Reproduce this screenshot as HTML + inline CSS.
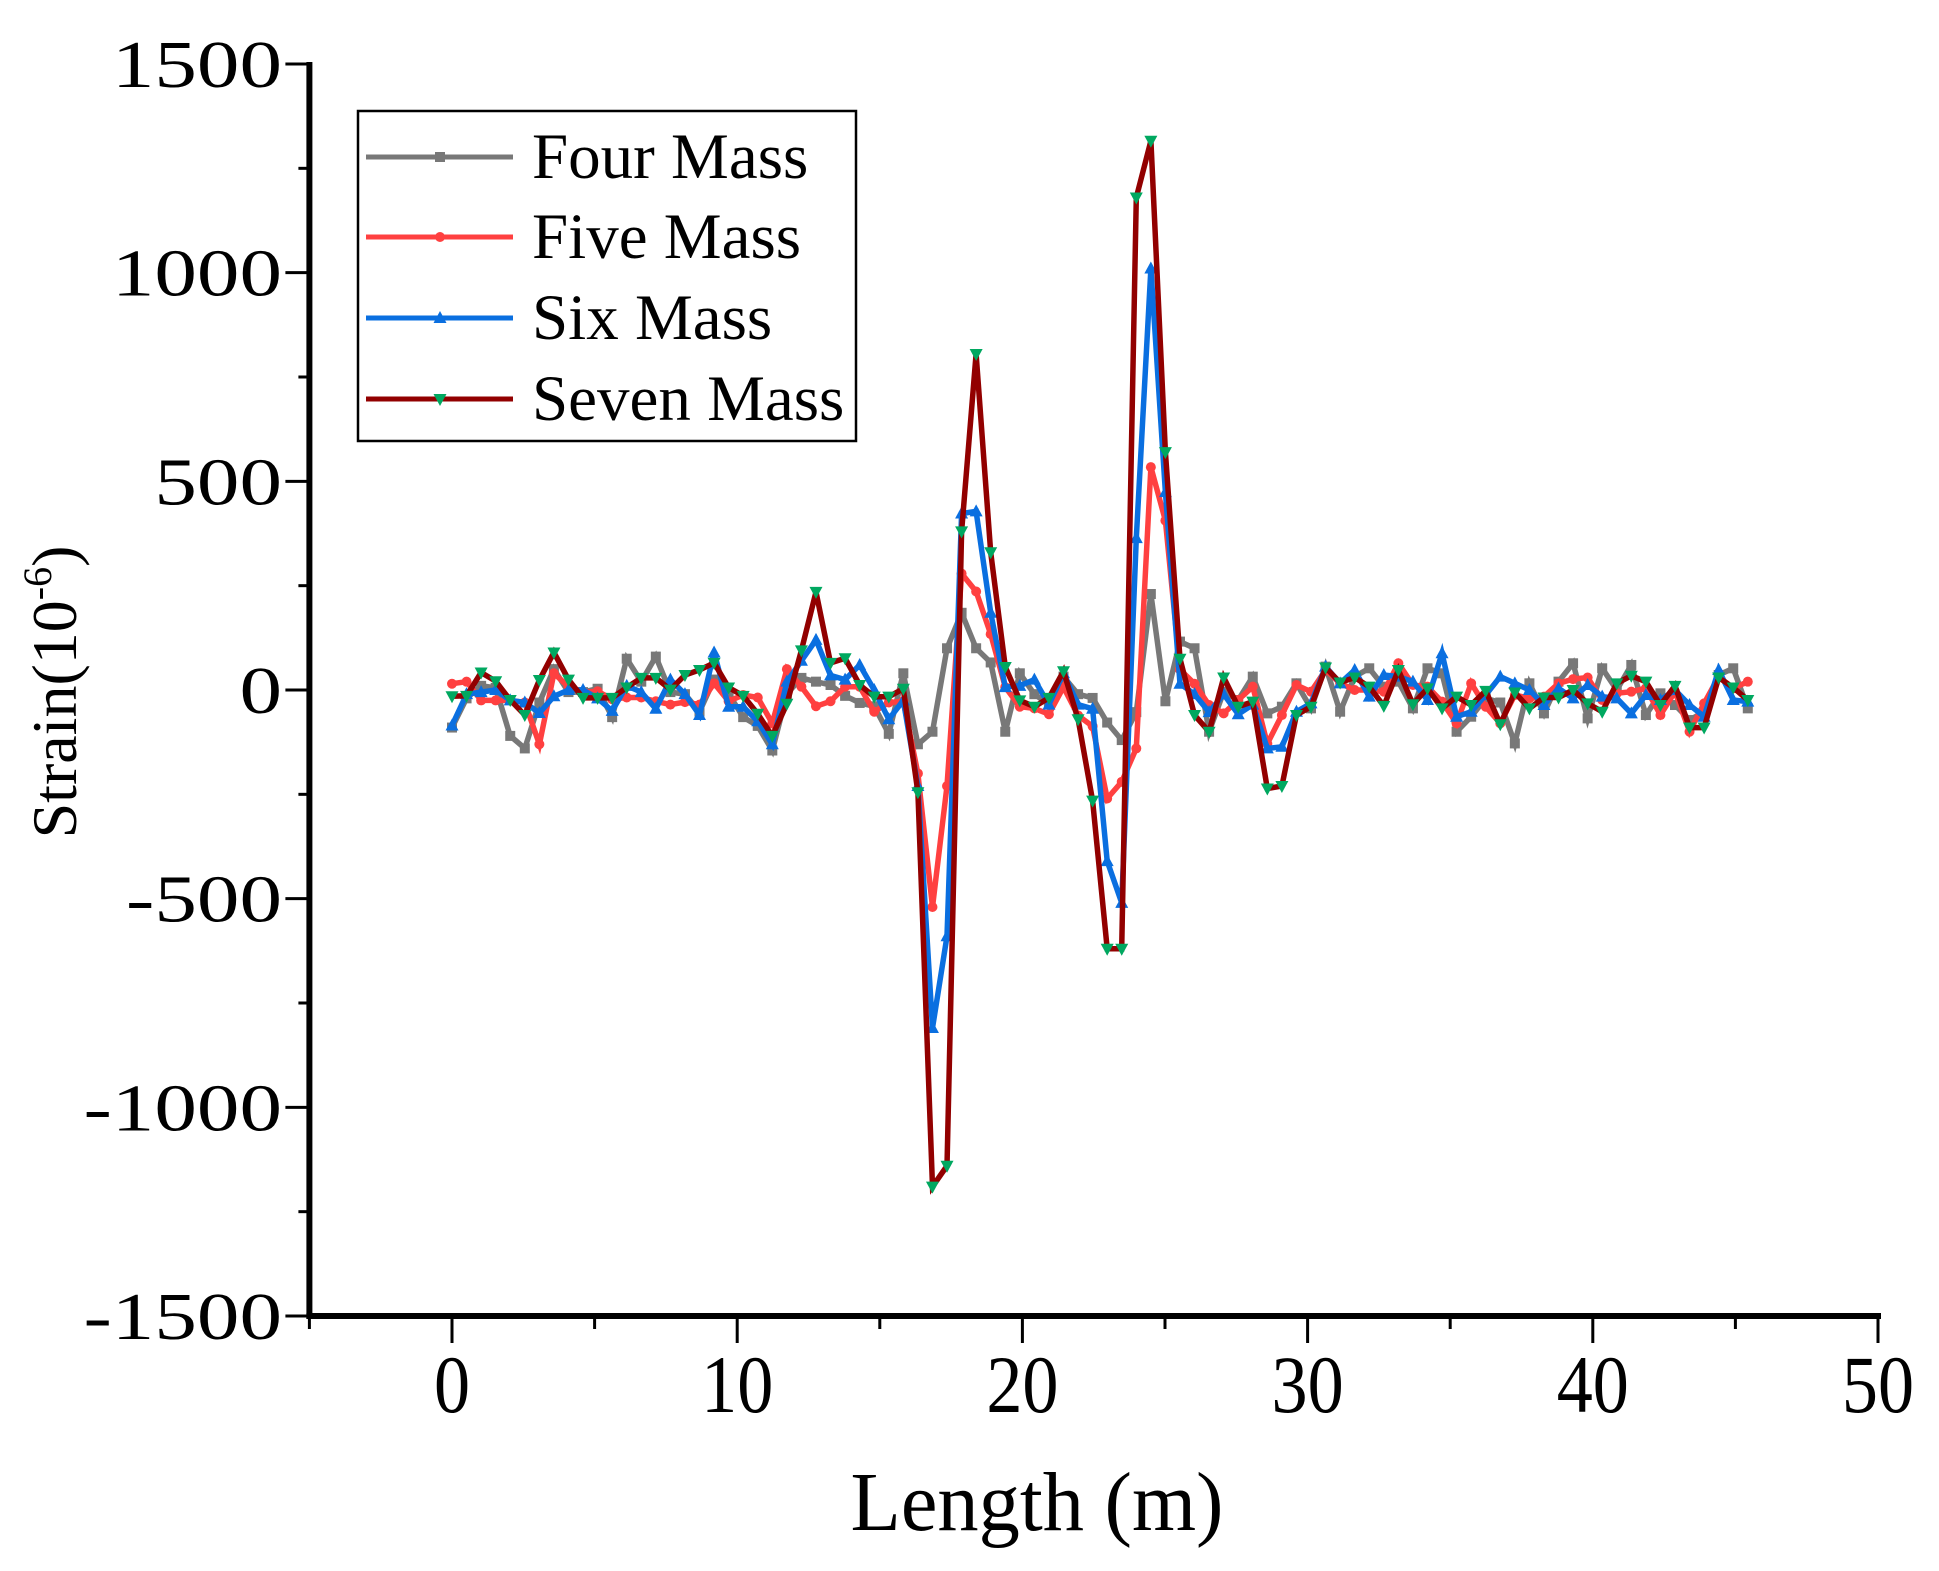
<!DOCTYPE html>
<html><head><meta charset="utf-8"><style>
html,body{margin:0;padding:0;background:#fff;}
svg{display:block;font-family:"Liberation Serif",serif;}
</style></head><body>
<svg id="chart" width="1939" height="1571" viewBox="0 0 1939 1571" xmlns="http://www.w3.org/2000/svg">
<g id="plot"></g>
<g id="axes"></g>
<g id="legend"></g>
</svg>
<script>
const step = 0.5105;
const fourMass = [-90,-20,10,5,-110,-140,-30,50,-5,-5,3,-65,75,20,80,-5,-10,-52,25,-9,-65,-86,-145,-9,29,20,12,-14,-31,-39,-105,40,
  -130,-100,100,185,100,66,-100,40,-10,-35,32,-10,-19,-78,-120,-53,230,-27,116,100,-100,-4,-24,32,-56,-40,16,-44,56,-52,32,52,8,20,
  -44,52,40,-100,-64,-20,-30,-128,16,-56,20,64,-68,52,0,60,-60,-8,-36,-72,-52,36,52,-44];
const fiveMass = [15,20,-25,-25,-25,-30,-130,40,8,-5,-3,-22,-18,-18,-27,-35,-29,-35,16,-27,-12,-18,-80,50,8,-39,-27,8,8,-52,-30,-27,
  -200,-520,-230,279,236,134,7,-40,-44,-58,7,-61,-87,-260,-220,-140,534,406,49,15,-36,-56,-24,8,-129,-60,12,-4,48,16,0,0,-4,64,
  12,8,-28,-80,16,-40,-80,-12,-20,-16,16,26,30,-24,-8,-4,4,-60,-4,-100,-32,32,4,20];
const sixMass = [-85,-10,-5,0,-25,-30,-55,-15,0,0,-20,-50,10,-5,-45,25,-10,-60,90,-40,-40,-75,-130,20,70,120,35,25,60,0,-70,-25,
  -230,-810,-590,423,428,185,7,10,25,-35,40,-35,-45,-410,-510,364,1010,474,15,-10,-53,-10,-58,-35,-140,-136,-52,-32,56,16,48,-16,36,32,
  20,-24,88,-64,-52,-12,32,16,0,-36,4,-20,12,-16,-20,-56,-12,-24,0,-36,-64,48,-24,-28];
const sevenMass = [-15,-14,42,21,-24,-60,24,90,25,-19,-19,-19,6,29,29,1,36,48,65,6,-14,-57,-110,-33,95,235,65,76,12,-16,-16,3,
  -245,-1190,-1140,380,805,330,55,-25,-40,-19,45,-70,-265,-620,-620,1180,1316,570,75,-60,-100,30,-40,-28,-236,-230,-60,-40,54,18,30,8,-38,48,
  -34,4,-44,-16,-36,-2,-82,-6,-44,-18,-18,0,-32,-52,16,34,20,-36,10,-90,-90,30,6,-24];
const xTicks = [0,10,20,30,40,50];
const xMinor = [-5,5,15,25,35,45];
const yTicks = [-1500,-1000,-500,0,500,1000,1500];
const yMinor = [-1250,-750,-250,250,750,1250];
const seriesNames = ["Four Mass","Five Mass","Six Mass","Seven Mass"];

const NS="http://www.w3.org/2000/svg";
const X0=309.4, X1=1878, XMIN=-5, XMAX=50;
const Y0=1316, Y1=64, YMIN=-1500, YMAX=1500;
function sx(v){return X0+(v-XMIN)/(XMAX-XMIN)*(X1-X0);}
function sy(v){return Y0-(v-YMIN)/(YMAX-YMIN)*(Y0-Y1);}
function mk(tag,attrs,parent){const e=document.createElementNS(NS,tag);for(const k in attrs)e.setAttribute(k,attrs[k]);parent.appendChild(e);return e;}

const plot=document.getElementById('plot');
const axes=document.getElementById('axes');
const legend=document.getElementById('legend');

const styles=[
 {c:'#787878',mc:'#787878',m:'square',key:'four-mass'},
 {c:'#FF4040',mc:'#FF4040',m:'circle',key:'five-mass'},
 {c:'#0A6FE0',mc:'#0A6FE0',m:'up',key:'six-mass'},
 {c:'#920000',mc:'#00A860',m:'down',key:'seven-mass'}
];
const data=[fourMass,fiveMass,sixMass,sevenMass];

function marker(type,x,y,col,parent){
  let e;
  if(type==='square'){e=mk('rect',{x:x-5,y:y-5,width:10,height:10,fill:col},parent);}
  else if(type==='circle'){e=mk('circle',{cx:x,cy:y,r:5,fill:col},parent);}
  else if(type==='up'){e=mk('polygon',{points:`${x},${y-7} ${x-6.5},${y+5} ${x+6.5},${y+5}`,fill:col},parent);}
  else {e=mk('polygon',{points:`${x},${y+7} ${x-6.5},${y-5} ${x+6.5},${y-5}`,fill:col},parent);}
  return e;
}

data.forEach((arr,si)=>{
  const st=styles[si];
  const g=mk('g',{},plot);
  
  
  const pts=arr.map((v,i)=>sx(i*step).toFixed(1)+','+sy(v).toFixed(1)).join(' ');
  const line=mk('polyline',{points:pts,fill:'none',stroke:st.c,'stroke-width':5.5,'stroke-linejoin':'miter'},g);
  
  
  arr.forEach((v,i)=>{
    const m=marker(st.m,sx(i*step),sy(v),st.mc,g);
    
    
  });
});

const yAxis=mk('line',{x1:X0,y1:Y1-2,x2:X0,y2:Y0+3,stroke:'#000','stroke-width':6},axes);


const xAxis=mk('line',{x1:X0-3,y1:Y0,x2:X1+3,y2:Y0,stroke:'#000','stroke-width':6},axes);



xTicks.forEach(t=>{
  const x=sx(t);
  const tk=mk('line',{x1:x,y1:Y0,x2:x,y2:Y0+27,stroke:'#000','stroke-width':3},axes);
  
  
  const tx=mk('text',{x:0,y:0,'font-size':82,'text-anchor':'middle',transform:`translate(${x},1412) scale(0.88,1)`},axes);
  tx.textContent=String(t);
  
  
});
xMinor.forEach(t=>{
  const x=sx(t);
  const tk=mk('line',{x1:x,y1:Y0,x2:x,y2:Y0+13,stroke:'#000','stroke-width':3},axes);
  
  
});
yTicks.forEach(t=>{
  const y=sy(t);
  const tk=mk('line',{x1:X0,y1:y,x2:X0-24,y2:y,stroke:'#000','stroke-width':3},axes);
  
  
  const tx=mk('text',{x:0,y:0,'font-size':67,'text-anchor':'end',transform:`translate(282,${y+23}) scale(1.27,1)`},axes);
  tx.textContent=String(t);
  
  
});
yMinor.forEach(t=>{
  const y=sy(t);
  const tk=mk('line',{x1:X0,y1:y,x2:X0-11,y2:y,stroke:'#000','stroke-width':3},axes);
  
  
});

const xt=mk('text',{x:1037,y:1530,'font-size':84,'text-anchor':'middle',textLength:373,lengthAdjust:'spacingAndGlyphs'},axes);
xt.textContent='Length (m)';



const yt=mk('text',{x:0,y:0,'font-size':64,'text-anchor':'middle',transform:'translate(76,692) rotate(-90)'},axes);


yt.appendChild(document.createTextNode('Strain(10'));
const sup=mk('tspan',{'font-size':40,dy:-25},yt);
sup.textContent='-6';
const cl=mk('tspan',{dy:25},yt);
cl.textContent=')';

const box=mk('rect',{x:358,y:111,width:498,height:330,fill:'#fff',stroke:'#000','stroke-width':2.5},legend);


const ly=[157,237,318,399];
seriesNames.forEach((n,i)=>{
  const st=styles[i];
  const g=mk('g',{},legend);
  
  
  mk('line',{x1:366,y1:ly[i],x2:513,y2:ly[i],stroke:st.c,'stroke-width':5},g);
  marker(st.m,440,ly[i],st.mc,g);
  const t=mk('text',{x:532,y:ly[i]+21,'font-size':65},g);
  t.textContent=n;
});
</script>
</body></html>
